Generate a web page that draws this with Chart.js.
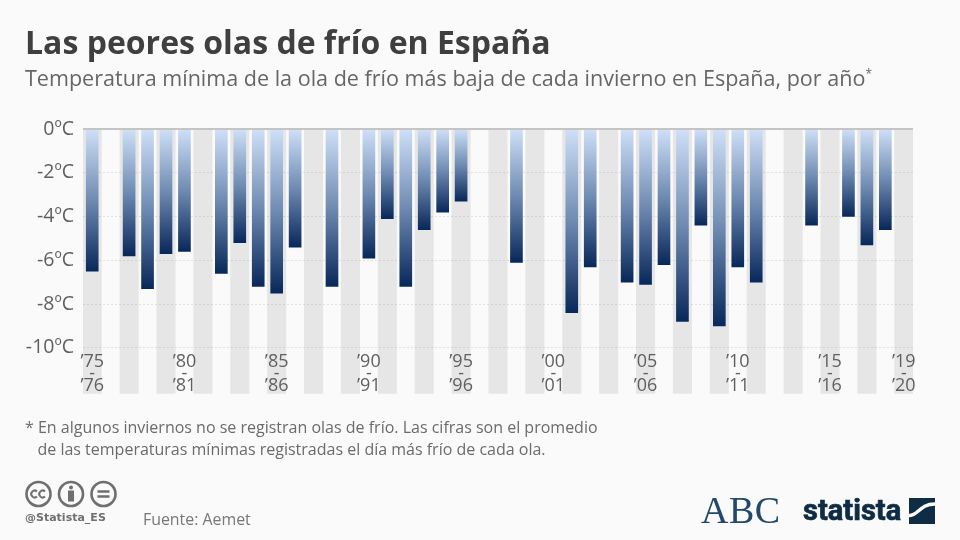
<!DOCTYPE html>
<html><head><meta charset="utf-8">
<style>
html,body{margin:0;padding:0;background:#fafafa;width:960px;height:540px;overflow:hidden;font-family:"Open Sans",sans-serif;}
#c{position:absolute;left:0;top:0;width:960px;height:540px;}
.t{position:absolute;white-space:nowrap;}
</style>
<script src="https://cdn.jsdelivr.net/npm/chart.js@4"></script>
</head><body>
<canvas id="c" width="960" height="540"></canvas>
<div class="t" style="left:25px;top:20px;font-size:32px;font-weight:700;color:#3f3f3f;">Las peores olas de frío en España</div>
<div class="t" style="left:25px;top:63px;font-size:21.55px;color:#666;">Temperatura mínima de la ola de frío más baja de cada invierno en España, por año<sup style="font-size:12px;line-height:0;">*</sup></div>
<div class="t" style="left:25px;top:417px;font-size:16px;line-height:21.5px;color:#6b6b6b;">* En algunos inviernos no se registran olas de frío. Las cifras son el promedio<br>&nbsp;&nbsp;&nbsp;de las temperaturas mínimas registradas el día más frío de cada ola.</div>
<svg style="position:absolute;left:25px;top:480px" width="95" height="30" viewBox="0 0 95 30" fill="none" stroke="#6f6f6f" stroke-width="2.6">
<circle cx="13.5" cy="14" r="12"/><circle cx="46" cy="14" r="12"/><circle cx="78.5" cy="14" r="12"/>
<path d="M12 11.5a3.4 3.4 0 1 0 0 5M20 11.5a3.4 3.4 0 1 0 0 5" stroke-width="2"/>
<circle cx="46" cy="7.5" r="2" fill="#6f6f6f" stroke="none"/><rect x="43" y="10.5" width="6" height="11" fill="#6f6f6f" stroke="none"/>
<path d="M72.5 11.5h12M72.5 16.5h12" stroke-width="2.6"/>
</svg>
<div class="t" style="left:25px;top:511px;font-size:11px;font-weight:700;color:#6f6f6f;font-family:'DejaVu Sans',sans-serif;">@Statista_ES</div>
<div class="t" style="left:143px;top:508px;font-size:15.9px;color:#777;">Fuente: Aemet</div>
<div class="t" style="left:701px;top:488px;font-size:38px;font-family:'Liberation Serif',serif;color:#22496b;letter-spacing:.5px;">ABC</div>
<div class="t" style="left:803px;top:492px;font-size:30px;font-weight:700;font-family:'Roboto',sans-serif;color:#0f2c45;transform:scaleX(.97);transform-origin:left top;-webkit-text-stroke:.7px #0f2c45;">statista</div>
<svg style="position:absolute;left:909px;top:498px" width="26" height="26" viewBox="0 0 26 26"><rect width="26" height="26" fill="#0f2c45"/><path d="M0 17.5C10 17.5 10 6 26 6" stroke="#fafafa" stroke-width="3.5" fill="none"/></svg>
<script>
const categories = ["75","76","77","78","79","80","81","82","83","84","85","86","87","88","89","90","91","92","93","94","95","96","97","98","99","00","01","02","03","04","05","06","07","08","09","10","11","12","13","14","15","16","17","18","19"];
const nextYears = ["76","77","78","79","80","81","82","83","84","85","86","87","88","89","90","91","92","93","94","95","96","97","98","99","00","01","02","03","04","05","06","07","08","09","10","11","12","13","14","15","16","17","18","19","20"];
const temps = [-6.5,null,-5.8,-7.3,-5.7,-5.6,null,-6.6,-5.2,-7.2,-7.5,-5.4,null,-7.2,null,-5.9,-4.1,-7.2,-4.6,-3.8,-3.3,null,null,-6.1,null,null,-8.4,-6.3,null,-7.0,-7.1,-6.2,-8.8,-4.4,-9.0,-6.3,-7.0,null,null,-4.4,null,-4.0,-5.3,-4.6,null];
const labelledYears = ["75","80","85","90","95","00","05","10","15","19"];
const yTicks = [0,-2,-4,-6,-8,-10];
const axisFloor = -12.1;
const bands = categories.map((_, i) => i % 2 === 0 ? [axisFloor, 0] : null);

const chart = new Chart(document.getElementById('c'), {
  type: 'bar',
  data: {
    labels: categories,
    datasets: [
      { label: 'Temperatura', data: temps, order: 1, grouped: false, barThickness: 12,
        backgroundColor(ctx) {
          const c = ctx.chart, v = ctx.raw;
          if (v == null || !c.scales.y) return '#0b2a5b';
          const y0 = c.scales.y.getPixelForValue(0), y1 = c.scales.y.getPixelForValue(v);
          if (!isFinite(y0) || !isFinite(y1)) return '#0b2a5b';
          const g = c.ctx.createLinearGradient(0, y0, 0, y1);
          g.addColorStop(0, '#cfe0f8');
          g.addColorStop(0.5, '#6f8bb2');
          g.addColorStop(1, '#08285a');
          return g;
        } },
      { label: 'Bandas', data: bands, order: 2, barPercentage: 1, categoryPercentage: 1,
        backgroundColor: 'rgba(0,0,0,0.08)' }
    ]
  },
  options: {
    responsive: false, animation: false, events: [],
    layout: { padding: { top: 129, right: 47, left: 0, bottom: 0 } },
    datasets: { bar: { grouped: false } },
    plugins: { legend: { display: false }, tooltip: { enabled: false } },
    scales: {
      x: {
        grid: { display: false }, border: { display: false },
        afterFit(s) { s.height = 146.3; },
        ticks: {
          z: 1, autoSkip: false, maxRotation: 0, minRotation: 0, mirror: true, padding: 26,
          color: '#5f5f5f', font: { family: 'Open Sans', size: 18, lineHeight: 0.667 },
          callback(v, i) {
            const y = categories[i];
            return labelledYears.includes(y) ? ['’' + y, '-', '’' + nextYears[i]] : '';
          }
        }
      },
      y: {
        min: axisFloor, max: 0,
        afterFit(s) { s.width = 83; },
        afterBuildTicks(s) { s.ticks = yTicks.map(value => ({ value })); },
        border: { display: false, dash: [2, 2] },
        grid: { drawTicks: false, color: '#e2e2e2', lineWidth: 1 },
        ticks: { padding: 9, color: '#5f5f5f', font: { family: 'Open Sans', size: 19.5 }, callback: v => v + 'ºC' }
      }
    }
  },
  plugins: [{
    id: 'topAxis',
    afterDatasetsDraw(c) {
      const { ctx, chartArea: a } = c;
      const y = c.scales.y.getPixelForValue(0);
      ctx.save(); ctx.strokeStyle = '#c4c4c4'; ctx.lineWidth = 2;
      ctx.beginPath(); ctx.moveTo(a.left, y); ctx.lineTo(a.right, y); ctx.stroke(); ctx.restore();
    }
  }]
});
</script>
</body></html>
